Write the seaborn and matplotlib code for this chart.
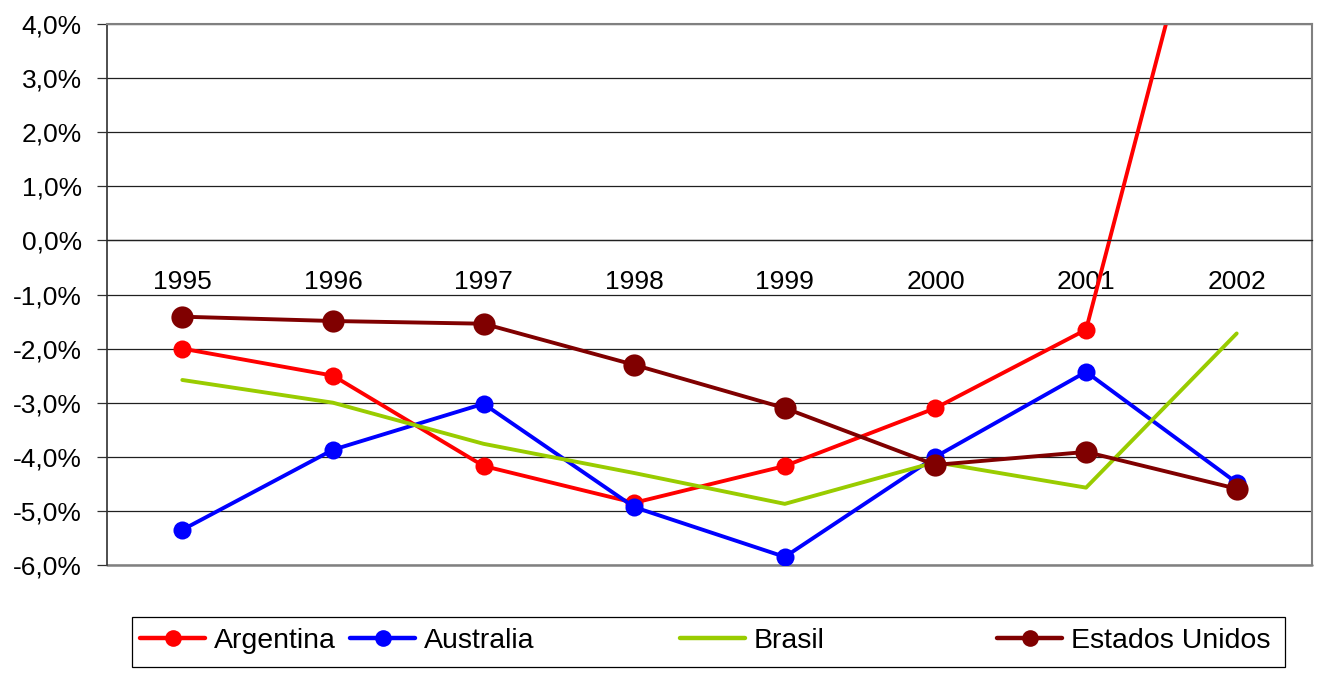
import matplotlib
matplotlib.use("Agg")
import matplotlib.pyplot as plt
import matplotlib.ticker as mticker
from matplotlib.lines import Line2D
from matplotlib.patches import Rectangle
import seaborn as sns

# data (percent values)
years = ["1995", "1996", "1997", "1998", "1999", "2000", "2001", "2002"]
argentina = [-2.0, -2.5, -4.17, -4.85, -4.17, -3.1, -1.65, 9.0]
australia = [-5.35, -3.87, -3.02, -4.93, -5.85, -4.0, -2.43, -4.48]
brasil = [-2.58, -3.0, -3.76, -4.3, -4.87, -4.1, -4.57, -1.72]
estados_unidos = [-1.41, -1.49, -1.54, -2.3, -3.1, -4.15, -3.91, -4.59]

series = [
    ("Argentina", argentina, "#FF0000", "o", 13),
    ("Australia", australia, "#0000FF", "o", 13),
    ("Brasil", brasil, "#99CC00", None, 0),
    ("Estados Unidos", estados_unidos, "#800000", "o", 16),
]

sns.set_style("white")
plt.rcParams["font.family"] = ["Liberation Sans", "DejaVu Sans"]
plt.rcParams["text.color"] = "black"

fig = plt.figure(figsize=(13.23, 6.75), dpi=100)
ax = fig.add_axes([107 / 1323, 1 - 565 / 675, (1312 - 107) / 1323, (565 - 24) / 675])

xpos = list(range(len(years)))
for name, vals, color, marker, ms in series:
    sns.lineplot(x=xpos, y=vals, ax=ax, color=color, linewidth=2.8,
                 marker=marker, markersize=ms, markeredgewidth=0,
                 label=name, legend=False)

ax.set_xlim(-0.5, 7.5)
ax.set_ylim(-6, 4)
ax.set_yticks(range(-6, 5))
ax.yaxis.set_major_formatter(
    mticker.FuncFormatter(lambda v, p: f"{v:.1f}%".replace(".", ",")))
ax.grid(axis="y", color="#202020", linewidth=0.9)
ax.set_axisbelow(True)

# category axis sits on the 0 % line
ax.spines["bottom"].set_position(("data", 0))
ax.spines["bottom"].set_color("#202020")
ax.spines["bottom"].set_linewidth(0.9)
ax.spines["left"].set_color("#303030")
ax.spines["left"].set_linewidth(1.2)
for s in ("top", "right"):
    ax.spines[s].set_color("#808080")
    ax.spines[s].set_linewidth(1.5)
ax.axhline(-6, color="#808080", linewidth=1.8, zorder=1, clip_on=False)

ax.set_xticks(xpos)
ax.set_xticklabels(years)
ax.set_xticks([x - 0.5 for x in range(len(years) + 1)], minor=True)
ax.tick_params(axis="x", which="major", length=0, pad=21, labelsize=19,
               labelcolor="black")
ax.tick_params(axis="x", which="minor", length=6.5, width=0.9,
               direction="out", color="#202020")
ax.tick_params(axis="y", which="major", length=7, width=0.9, left=True,
               direction="out", color="#303030", pad=11, labelsize=19,
               labelcolor="black")
ax.set_xlabel("")
ax.set_ylabel("")

# legend box with entries placed like the original
fig.patches.append(Rectangle((132 / 1323, 1 - 667 / 675), (1285 - 132) / 1323,
                             50 / 675, transform=fig.transFigure,
                             fill=False, edgecolor="black", linewidth=0.9))
starts = [140, 350, 680, 997]
for (name, vals, color, marker, ms), x0 in zip(series, starts):
    h = Line2D([], [], color=color, linewidth=3.2, marker=marker,
               markersize=12 if marker else 0, markeredgewidth=0)
    fig.legend(handles=[h], labels=[name], loc="center left",
               bbox_to_anchor=(x0 / 1323, 1 - 641 / 675), frameon=False,
               borderpad=0, borderaxespad=0, handlelength=2.3,
               handletextpad=0.3, fontsize=20.5, labelcolor="black")

fig.savefig("out.png", dpi=100, facecolor="white")
